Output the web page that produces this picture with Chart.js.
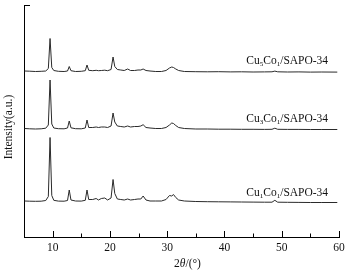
<!DOCTYPE html>
<html>
<head>
<meta charset="utf-8">
<script src="https://cdn.jsdelivr.net/npm/chart.js@4/dist/chart.umd.min.js"></script>
<style>
  html, body { margin: 0; padding: 0; background: #fff; }
  #wrap { width: 355px; height: 273px; position: relative; }
</style>
</head>
<body>
<div id="wrap"><canvas id="xrd"></canvas></div>
<script>
// ===== XRD patterns, three stacked samples =====
const SERIF = '"Liberation Serif", "Times New Roman", serif';

// 2theta positions (deg) shared by all patterns
const angles = [5.1, 6, 7, 8, 8.8, 9.25, 9.55, 9.85, 10.2, 11, 12, 12.6, 12.9, 13.2, 14, 15, 15.7, 16.0, 16.3,
    17, 17.6, 18.0, 18.5, 19.1, 19.6, 20.2, 20.55, 20.85, 21.3, 21.9, 22.5, 23.1, 23.6, 24.3, 24.9, 25.4, 25.8,
    26.3, 27, 28, 29, 29.8, 30.4, 30.8, 31.1, 31.5, 32, 33, 35, 37, 39, 41, 43, 45, 47, 48.3, 48.8, 49.3,
    51, 53, 55, 57, 59.7];

// intensities above each pattern's own baseline (a.u.)
const cu5co1 = [0.5, 0.3, 0, 0.2, 0.5, 3, 33, 4, 1, 0.2, 0, 0.5, 5, 0.8, 0, 0.2, 0.8, 6.5, 1.2,
    0.8, 1.2, 0.8, 1, 1.3, 0.8, 2, 14.5, 5, 2, 1.5, 1, 2.5, 1, 1, 1.5, 1.5, 2.5,
    1, 0.5, 0, 0, 1, 3.5, 4.5, 4, 2.5, 1, 0, -0.2, -0.3, -0.2, -0.4, -0.3, -0.5, -0.4, -0.3, 0.4, -0.3,
    -0.5, -0.4, -0.6, -0.5, -0.6];
const cu3co1 = [0.5, 0.2, 0, 0.2, 0.8, 4, 49, 5, 1, 0.3, 0.2, 1, 8, 1.2, 0.3, 0.2, 1, 9, 1.5,
    1.5, 2, 1.5, 2, 2, 1.5, 3, 16, 7, 3, 2.5, 2, 3, 2, 2.5, 2.5, 3, 4.3,
    1.5, 1, 0.5, 0.5, 1.5, 4, 6, 5.5, 3.5, 1.5, 0.5, 0, 0, -0.2, -0.2, -0.3, -0.3, -0.4, -0.3, 0.8, -0.3,
    -0.4, -0.4, -0.5, -0.5, -0.5];
const cu1co1 = [0.5, 0.3, 0.2, 0.3, 1, 5, 64, 6, 1.2, 0.4, 0.3, 1, 11.5, 1.5, 0.5, 0.4, 1.2, 11.5, 2,
    2, 3, 1.5, 3, 3.5, 1.5, 3.5, 22, 8, 2.5, 2, 1.5, 2.5, 1.5, 2, 2.5, 2.5, 5.5,
    1.5, 0.5, 0.5, 0.5, 2, 6, 5.5, 7, 4, 1.5, 0.5, 0, -0.2, -0.3, -0.4, -0.5, -0.6, -0.7, -0.7, 1.2, -0.7,
    -0.8, -0.9, -1, -1, -1];

const patterns = [cu5co1, cu3co1, cu1co1];
const offsets = [165.5, 108, 35.5];          // vertical stacking of the patterns
const sampleNames = ['Cu_5Co_1/SAPO-34', 'Cu_3Co_1/SAPO-34', 'Cu_1Co_1/SAPO-34'];
const nameLevels = [177, 119, 45];            // y (a.u.) where each name sits
const nameRightAt = 58.1;                     // 2theta where names end
const xTicks = [10, 15, 20, 25, 30, 35, 40, 45, 50, 55, 60];
const xLabelEvery = 10;

// split "Cu_5Co_1" into plain / subscript runs
function runs(str) {
    const out = [];
    let i = 0;
    while (i < str.length) {
        if (str[i] === '_') { out.push({ t: str[i + 1], sub: true }); i += 2; continue; }
        let j = i;
        while (j < str.length && str[j] !== '_') j++;
        out.push({ t: str.slice(i, j), sub: false });
        i = j;
    }
    return out;
}

function drawRuns(ctx, parts, xRight, yMid, size) {
    const fontOf = p => (p.italic ? 'italic ' : '') + (p.sub ? size * 0.62 : size) + 'px ' + SERIF;
    let w = 0;
    parts.forEach(p => { ctx.font = fontOf(p); w += ctx.measureText(p.t).width; });
    let x = xRight - w;
    ctx.textBaseline = 'alphabetic';
    ctx.textAlign = 'left';
    const base = yMid + size * 0.33;
    parts.forEach(p => {
        ctx.font = fontOf(p);
        ctx.fillText(p.t, x, p.sub ? base + size * 0.2 : base);
        x += ctx.measureText(p.t).width;
    });
    return w;
}

const decor = {
    id: 'decor',
    afterDraw(chart) {
        const { ctx, chartArea: a, scales: { x, y } } = chart;
        ctx.save();
        ctx.strokeStyle = '#000';
        ctx.lineWidth = 1;
        // inward ticks on the 2theta axis
        xTicks.forEach(v => {
            const px = Math.round(x.getPixelForValue(v)) + 0.5;
            const len = v % xLabelEvery === 0 ? 6 : 3.5;
            ctx.beginPath();
            ctx.moveTo(px, a.bottom);
            ctx.lineTo(px, a.bottom - len);
            ctx.stroke();
        });
        // short cap at the top of the intensity axis
        const topY = Math.round(y.getPixelForValue(y.max)) + 0.5;
        ctx.beginPath();
        ctx.moveTo(a.left, topY);
        ctx.lineTo(a.left + 6, topY);
        ctx.stroke();

        ctx.fillStyle = '#111';
        sampleNames.forEach((n, i) => {
            drawRuns(ctx, runs(n), x.getPixelForValue(nameRightAt), y.getPixelForValue(nameLevels[i]), 11.5);
        });
        // axis title with italic theta
        const title = [{ t: '2' }, { t: 'θ', italic: true }, { t: '/(°)' }];
        let w = 0;
        title.forEach(p => { ctx.font = (p.italic ? 'italic ' : '') + '11.5px ' + SERIF; w += ctx.measureText(p.t).width; });
        const cx = (a.left + a.right) / 2 + 6;
        drawRuns(ctx, title, cx + w / 2, 263, 11.5);

        // intensity title, rotated
        ctx.translate(9, 127);
        ctx.rotate(-Math.PI / 2);
        ctx.font = '11.5px ' + SERIF;
        ctx.textAlign = 'center';
        ctx.textBaseline = 'middle';
        ctx.fillText('Intensity(a.u.)', 0, 0);
        ctx.restore();
    }
};

new Chart(document.getElementById('xrd'), {
    type: 'line',
    data: {
        labels: angles,
        datasets: patterns.map((p, i) => ({
            data: angles.map((a, k) => ({ x: a, y: p[k] + offsets[i] })),
            borderColor: '#2a2a2a',
            borderWidth: 1,
            pointRadius: 0,
            tension: 0,
            fill: false
        }))
    },
    options: {
        responsive: true,
        maintainAspectRatio: false,
        animation: false,
        layout: { padding: { top: 5, right: 16, left: 0, bottom: 0 } },
        plugins: { legend: { display: false }, tooltip: { enabled: false } },
        scales: {
            x: {
                type: 'linear', min: 5, max: 60,
                afterFit: s => { s.height = 36; },
                afterBuildTicks: s => { s.ticks = xTicks.map(v => ({ value: v })); },
                ticks: {
                    autoSkip: false, maxRotation: 0, padding: 4, color: '#111',
                    font: { family: SERIF, size: 11.5 },
                    callback: v => v % xLabelEvery === 0 ? v : ''
                },
                grid: { display: false, drawTicks: false },
                border: { display: true, color: '#000', width: 1 }
            },
            y: {
                min: 0, max: 232,
                afterFit: s => { s.width = 24; },
                ticks: { display: false },
                grid: { display: false, drawTicks: false },
                border: { display: true, color: '#000', width: 1 }
            }
        }
    },
    plugins: [decor]
});
</script>
</body>
</html>
